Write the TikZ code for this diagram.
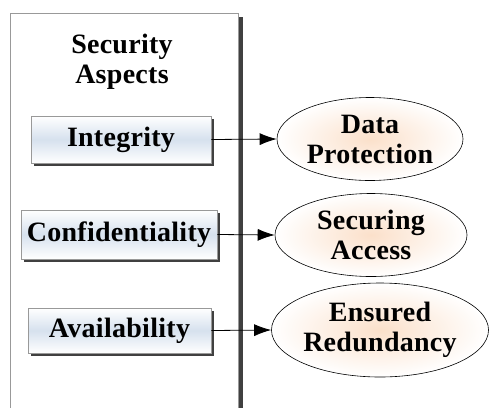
\documentclass[tikz,border=0pt]{standalone}
\usepackage{fontspec}
\setmainfont{Liberation Serif}
\newfontfamily\aspectFont[LetterSpace=1]{Liberation Serif}
\usetikzlibrary{shapes.geometric,shadows,arrows.meta}
\definecolor{boxMid}{RGB}{214,225,238}
\definecolor{ovalMid}{RGB}{251,224,202}
\begin{document}
\begin{tikzpicture}[x=1pt,y=-1pt,
    font=\aspectFont\bfseries\fontsize{28}{30}\selectfont,
    aspect/.style={draw=gray!80, line width=0.9pt, minimum height=47pt,
      top color=white, bottom color=white, middle color=boxMid,
      drop shadow={shadow xshift=3pt, shadow yshift=-3pt, fill=black!75, opacity=1},
      inner sep=4pt},
    goal/.style={ellipse, draw=black, line width=0.6pt, align=center,
      inner color=ovalMid, outer color=white, inner sep=0pt},
    link/.style={line width=0.8pt, -{Latex[length=17pt,width=12pt]}}]
\useasboundingbox (0,0) rectangle (489,407);
\clip (0,0) rectangle (489,407);

% open frame round the aspects
\draw[black!75, line width=4pt] (241,17) -- (241,420);
\draw[gray!80, line width=1pt] (10,420) -- (10,13) -- (238,13) -- (238,420);
\node[align=center] (title) at (122,62) {Security\\Aspects};

\node[aspect, minimum width=180pt] (integ) at (121,139.5) {Integrity};
\node[aspect, minimum width=196pt, minimum height=49pt] (confid) at (119,234.5) {Confidentiality};
\node[aspect, minimum width=183pt, minimum height=45pt] (avail) at (119.5,330.5) {Availability};

\node[goal, minimum width=186pt, minimum height=83pt] (protect) at (370,139) {Data\\Protection};
\node[goal, minimum width=192pt, minimum height=83pt] (access) at (371,235) {Securing\\Access};
\node[goal, minimum width=216pt, minimum height=94pt] (redund) at (380,330) {Ensured\\Redundancy};

\draw[link] (integ.east) -- (protect.west);
\draw[link] (confid.east) -- (access.west);
\draw[link] (avail.east) -- (redund.west);

\end{tikzpicture}
\end{document}
